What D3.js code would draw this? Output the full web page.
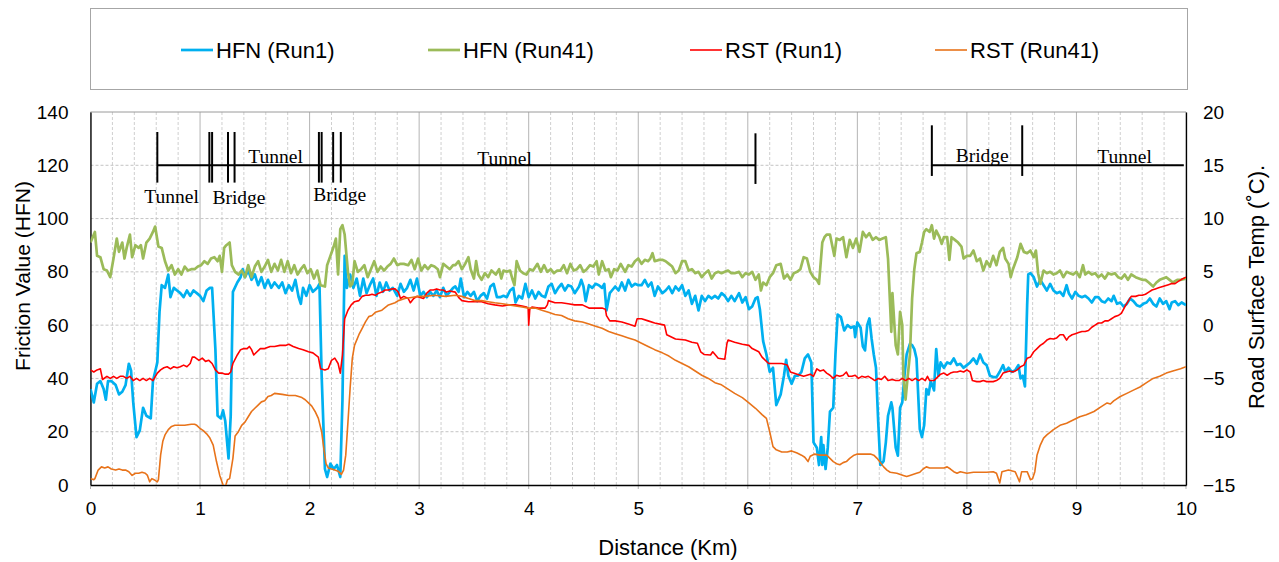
<!DOCTYPE html>
<html>
<head>
<meta charset="utf-8">
<script src="https://cdn.jsdelivr.net/npm/d3@7"></script>
<style>
  body { margin: 0; background: #fff; }
  svg { display: block; font-family: "Liberation Sans", Arial, sans-serif; }
  .axis text { fill: #000; font-size: 19px; }
  .structure-label { font-family: "Liberation Serif", "Times New Roman", serif; font-size: 19.5px; fill: #000; }
</style>
</head>
<body>
<svg id="chart"></svg>
<script>
// ---- data: [distance km, value] ----
// HFN on the left axis, road surface temp (°C) on the right axis

const hfnRun1 = [
  [0.00,36],[0.03,31],[0.06,38],[0.09,39],[0.12,36],[0.14,32],[0.16,39],[0.19,39],[0.23,37.5],[0.26,34],
  [0.29,35],[0.32,37.5],[0.35,45.5],[0.37,43],[0.39,31],[0.42,18],[0.45,20.5],[0.48,29],[0.51,26],[0.55,25],
  [0.57,39],[0.61,46],[0.63,65],[0.65,75],[0.68,74],[0.71,79],[0.73,70.5],[0.76,74],[0.79,73],[0.82,72],
  [0.85,70.5],[0.88,73],[0.91,71],[0.94,73],[0.97,72],[1.00,71],[1.03,69],[1.06,73],[1.09,74],[1.11,74],
  [1.14,51],[1.16,26],[1.19,25],[1.21,28],[1.23,24],[1.26,10],[1.28,26],[1.30,72.5],[1.34,76],[1.37,78],
  [1.39,81],[1.41,78],[1.44,80.5],[1.47,77],[1.50,79],[1.53,75],[1.56,78],[1.59,74],[1.62,77],[1.65,74],
  [1.68,76],[1.72,74],[1.75,76],[1.78,72],[1.81,75],[1.84,73],[1.87,77],[1.90,70.5],[1.92,68],[1.94,74],
  [1.97,71],[2.00,75],[2.03,72.5],[2.07,74],[2.09,75.5],[2.11,41],[2.14,6],[2.16,3],[2.19,8],[2.22,6],
  [2.25,7.5],[2.28,3],[2.30,32],[2.32,86],[2.34,74],[2.37,79],[2.40,74],[2.43,77.5],[2.46,71],[2.49,77.5],
  [2.52,72],[2.55,75],[2.58,77.5],[2.61,71],[2.64,76],[2.67,72.5],[2.70,76],[2.73,73],[2.76,74],[2.80,71],
  [2.83,75.5],[2.86,72.5],[2.89,74],[2.92,77],[2.95,73],[2.98,77.5],[3.01,71],[3.04,72.5],[3.07,70.5],[3.10,72.5],
  [3.13,71],[3.16,73],[3.19,70.5],[3.22,74],[3.25,71],[3.28,72.5],[3.31,74],[3.33,74.5],[3.36,72.5],[3.38,77.5],
  [3.41,70.5],[3.44,72.5],[3.47,71],[3.50,72.5],[3.53,69],[3.56,71],[3.59,72],[3.62,70],[3.65,74.5],[3.68,75.5],
  [3.71,70.5],[3.74,70.5],[3.77,71],[3.80,70.5],[3.83,73],[3.86,74],[3.88,68.5],[3.91,71],[3.94,70],[3.97,75.5],
  [4.00,70.5],[4.03,73],[4.06,70],[4.09,72.5],[4.12,71],[4.15,70.5],[4.18,74.5],[4.21,75.5],[4.24,72],[4.27,74],
  [4.30,75.5],[4.33,73],[4.36,75],[4.39,74.5],[4.42,72],[4.46,74.5],[4.48,77],[4.50,74.5],[4.52,69],[4.55,75],
  [4.58,74],[4.61,75.5],[4.64,75],[4.67,74],[4.69,75.5],[4.71,65.5],[4.74,72],[4.76,73],[4.79,74.5],[4.82,73],
  [4.85,76],[4.88,73],[4.91,77],[4.94,74.5],[4.97,75.5],[5.00,75],[5.03,75],[5.06,77],[5.09,74.5],[5.12,76],
  [5.15,71],[5.18,74.5],[5.22,72],[5.25,73],[5.28,74.5],[5.31,72],[5.34,74.5],[5.37,73],[5.40,75],[5.43,71],
  [5.46,73],[5.49,68],[5.52,71],[5.55,65.5],[5.58,71],[5.61,69],[5.64,71],[5.67,70],[5.70,71],[5.73,70],
  [5.76,72],[5.79,71],[5.82,69],[5.85,71],[5.88,69],[5.92,72],[5.95,68.5],[5.98,70.5],[6.01,66],[6.04,67],
  [6.07,70],[6.09,70.5],[6.11,66],[6.14,54],[6.17,49],[6.20,42.5],[6.23,44],[6.26,30],[6.30,34],[6.33,41],
  [6.35,47],[6.37,41],[6.40,38],[6.43,41],[6.46,41],[6.49,42.5],[6.52,47.5],[6.55,49],[6.58,46],[6.60,16],
  [6.63,14],[6.65,7.5],[6.67,18],[6.68,7.5],[6.69,15],[6.71,6],[6.73,14],[6.75,27.5],[6.78,29],[6.80,49],
  [6.82,64],[6.85,63],[6.88,58],[6.91,60],[6.94,59],[6.97,59.5],[6.98,55.5],[7.00,61],[7.03,59],[7.05,52],
  [7.07,50.5],[7.09,60],[7.11,62.5],[7.13,55],[7.15,49],[7.17,44],[7.19,24],[7.21,7.5],[7.24,9],[7.26,16],
  [7.28,26],[7.31,31],[7.32,29],[7.35,14],[7.37,11],[7.39,29],[7.41,31],[7.43,41],[7.45,49],[7.48,53],
  [7.50,52.5],[7.52,51],[7.54,47.5],[7.57,21],[7.59,18],[7.61,22.5],[7.63,36],[7.65,34],[7.67,39],[7.70,35.5],
  [7.72,51],[7.74,41],[7.76,46],[7.79,44],[7.82,46],[7.85,45.5],[7.88,47.5],[7.91,45],[7.94,45.5],[7.97,44],
  [8.00,45],[8.03,46],[8.06,47.5],[8.09,45.5],[8.12,49],[8.15,46],[8.18,45],[8.21,41],[8.24,40.5],[8.27,40.5],
  [8.30,42.5],[8.33,45],[8.35,42.5],[8.38,44],[8.41,42.5],[8.44,43],[8.47,45],[8.49,40],[8.51,41],[8.53,37],
  [8.55,67.5],[8.56,79],[8.58,79.5],[8.61,78],[8.64,74.5],[8.67,77],[8.70,75],[8.73,73],[8.76,75.5],[8.79,73],
  [8.82,72],[8.85,72.5],[8.88,71],[8.91,75],[8.93,72],[8.96,70],[8.99,72.5],[9.02,71],[9.05,70.5],[9.08,71],
  [9.11,70],[9.14,68.5],[9.17,70.5],[9.20,70.5],[9.23,69],[9.26,68.5],[9.29,70],[9.32,69],[9.34,71],[9.37,68],
  [9.40,68.5],[9.43,67],[9.46,68],[9.49,70],[9.52,69],[9.55,67.5],[9.58,67],[9.61,68],[9.64,68.5],[9.67,70],
  [9.70,68],[9.73,67],[9.76,70],[9.79,68],[9.82,69],[9.85,66],[9.87,68.5],[9.90,69],[9.93,67.5],[9.96,68.5],
  [10.0,67.5]
];

const hfnRun41 = [
  [0.00,91],[0.04,95],[0.06,86],[0.09,85.5],[0.12,81],[0.15,80.5],[0.18,78],[0.21,85],[0.24,92.5],[0.26,87.5],
  [0.29,91],[0.31,85],[0.33,89],[0.36,94],[0.38,85.5],[0.41,90],[0.44,89],[0.46,90],[0.48,85],[0.51,91],
  [0.54,92.5],[0.57,95],[0.59,97],[0.62,89.5],[0.65,89],[0.68,84],[0.71,80.5],[0.74,82.5],[0.77,79],[0.80,81],
  [0.83,79],[0.86,82],[0.89,80.5],[0.92,81],[0.95,81],[0.98,82],[1.01,82.5],[1.04,84],[1.07,83],[1.10,85],
  [1.13,85.5],[1.16,84],[1.18,86],[1.20,80],[1.22,89],[1.24,90],[1.27,91],[1.29,82.5],[1.32,80],[1.35,79],
  [1.38,80.5],[1.41,78],[1.44,82.5],[1.47,78],[1.50,82],[1.53,84],[1.56,80],[1.59,82],[1.62,84.5],[1.65,80],
  [1.68,83],[1.71,80.5],[1.74,84.5],[1.77,80],[1.80,84],[1.83,79.5],[1.86,82.5],[1.89,79],[1.92,81],[1.95,82.5],
  [1.98,79.5],[2.01,81],[2.04,77.5],[2.07,80.5],[2.10,75],[2.14,74.5],[2.16,82.5],[2.19,86],[2.22,89.5],[2.24,92.5],
  [2.26,79],[2.28,96],[2.30,97.5],[2.32,94],[2.35,80],[2.37,74.5],[2.39,75.5],[2.41,84],[2.44,80],[2.47,81],
  [2.50,82.5],[2.53,78],[2.56,81],[2.59,84],[2.62,80],[2.65,82],[2.68,80.5],[2.71,82],[2.74,83],[2.77,85],
  [2.80,82.5],[2.83,83],[2.86,83],[2.90,82.5],[2.93,84.5],[2.96,81],[2.99,85],[3.02,80.5],[3.05,82.5],[3.08,81],
  [3.11,82.5],[3.14,82],[3.17,81],[3.19,78],[3.22,83],[3.25,82],[3.28,81],[3.31,82.5],[3.33,82.5],[3.36,84],
  [3.39,81],[3.42,83],[3.45,85.5],[3.47,81],[3.50,77.5],[3.52,84],[3.54,79],[3.57,77],[3.60,79.5],[3.63,78],
  [3.66,80.5],[3.70,79],[3.73,81],[3.75,77.5],[3.77,80.5],[3.80,80],[3.83,80.5],[3.85,77.5],[3.87,75],[3.89,84],
  [3.92,80.5],[3.95,79.5],[3.98,79],[4.01,81],[4.04,80.5],[4.08,83],[4.11,80],[4.14,82.5],[4.17,80],[4.20,81],
  [4.23,79.5],[4.26,80.5],[4.29,80.5],[4.32,82.5],[4.35,79.5],[4.38,83],[4.41,80.5],[4.44,81],[4.47,82.5],[4.50,80],
  [4.53,81],[4.56,82.5],[4.59,82],[4.62,84],[4.64,79],[4.67,84],[4.70,80.5],[4.73,81],[4.75,78],[4.78,81],
  [4.81,80.5],[4.84,83],[4.88,80],[4.91,82.5],[4.94,82],[4.97,84],[5.00,85],[5.03,83],[5.06,84.5],[5.09,84],
  [5.11,85],[5.13,87],[5.15,84],[5.19,84.5],[5.22,84.5],[5.25,84],[5.28,83],[5.31,82],[5.34,79.5],[5.37,80.5],
  [5.40,84],[5.43,84],[5.46,80.5],[5.49,81],[5.52,79.5],[5.55,80],[5.58,78],[5.61,79.5],[5.64,80.5],[5.67,77.5],
  [5.70,79.5],[5.73,80],[5.76,79.5],[5.79,80],[5.82,80.5],[5.85,79.5],[5.88,79.5],[5.92,80],[5.95,78],[5.98,79.5],
  [6.01,79],[6.04,80],[6.07,77],[6.10,79],[6.12,73],[6.14,76],[6.17,75],[6.20,78],[6.23,79.5],[6.26,82.5],
  [6.30,83],[6.33,77.5],[6.36,79],[6.39,77],[6.42,79.5],[6.45,80],[6.48,81],[6.51,85.5],[6.54,85],[6.57,80],
  [6.60,78],[6.63,77],[6.65,75.5],[6.68,91],[6.70,93],[6.72,94],[6.75,94],[6.77,90],[6.79,86],[6.81,92.5],
  [6.84,92],[6.87,93],[6.90,85.5],[6.93,92],[6.96,89],[6.99,92.5],[7.02,87.5],[7.05,95],[7.08,93],[7.11,94.5],
  [7.14,92],[7.17,93],[7.20,92],[7.23,92.5],[7.26,93],[7.28,85],[7.31,57.5],[7.32,72],[7.35,52.5],[7.37,49],
  [7.39,65],[7.41,60],[7.42,41],[7.44,32],[7.46,41],[7.48,49],[7.50,70],[7.52,81],[7.54,87],[7.57,87.5],
  [7.59,91],[7.61,95],[7.63,96],[7.66,95],[7.68,97.5],[7.70,92.5],[7.72,95.5],[7.75,93],[7.77,90.5],[7.79,93],
  [7.82,93],[7.84,84.5],[7.86,93],[7.89,92],[7.92,91],[7.95,89.5],[7.97,85],[8.00,86],[8.03,86],[8.06,88],
  [8.09,84],[8.12,85],[8.15,80.5],[8.18,84],[8.21,82],[8.24,86],[8.27,82.5],[8.30,87.5],[8.33,89],[8.35,85],
  [8.38,83],[8.40,78],[8.42,81],[8.46,85.5],[8.49,90.5],[8.52,87.5],[8.55,87],[8.58,88],[8.61,85.5],[8.63,88],
  [8.65,79.5],[8.67,75.5],[8.70,80.5],[8.73,79.5],[8.76,80],[8.79,79],[8.82,79.5],[8.85,80.5],[8.88,78],[8.91,80],
  [8.94,79.5],[8.97,79],[9.00,80],[9.03,78],[9.06,82.5],[9.08,79],[9.11,80],[9.14,79],[9.17,79.5],[9.20,78],
  [9.23,79],[9.26,77.5],[9.29,79.5],[9.32,79],[9.35,79.5],[9.38,78],[9.41,77.5],[9.44,79],[9.47,77],[9.50,79],
  [9.54,78],[9.57,77.5],[9.60,77],[9.63,77],[9.66,76],[9.70,74.5],[9.73,76],[9.76,77],[9.79,77.5],[9.82,78],
  [9.85,77],[9.88,76],[9.92,77],[9.95,77],[10.0,77.5]
];

const rstRun1 = [
  [0.00,-4.2],[0.03,-4.4],[0.06,-4.2],[0.09,-4.1],[0.11,-5.1],[0.15,-4.8],[0.18,-5],[0.21,-4.8],[0.24,-5],[0.27,-4.8],
  [0.30,-4.8],[0.33,-5],[0.36,-4.8],[0.39,-5.2],[0.42,-5],[0.45,-5.2],[0.48,-5],[0.51,-5.2],[0.54,-5],[0.57,-5.2],
  [0.61,-4.5],[0.64,-4.2],[0.67,-4],[0.70,-3.9],[0.73,-4.1],[0.76,-3.9],[0.79,-4],[0.82,-3.9],[0.85,-3.75],[0.88,-3.9],
  [0.91,-3.6],[0.93,-3],[0.95,-3],[0.99,-3.3],[1.02,-3.1],[1.05,-3.4],[1.08,-3.3],[1.11,-3.6],[1.14,-4.2],[1.17,-4.5],
  [1.20,-4.5],[1.23,-4.6],[1.26,-4.6],[1.28,-4.4],[1.30,-3.6],[1.34,-2.8],[1.37,-2.3],[1.40,-2.2],[1.43,-2.2],[1.45,-2],
  [1.47,-2.3],[1.49,-2.8],[1.52,-2.5],[1.55,-2.2],[1.59,-2.2],[1.64,-2],[1.68,-2],[1.73,-1.9],[1.78,-1.9],[1.81,-1.8],
  [1.85,-2],[1.90,-2.2],[1.94,-2.3],[1.99,-2.5],[2.03,-2.6],[2.08,-3],[2.10,-4.1],[2.14,-4.2],[2.17,-4.1],[2.20,-3.3],
  [2.23,-3.1],[2.26,-3.6],[2.28,-4.5],[2.30,-2.8],[2.32,0.6],[2.35,1.4],[2.38,1.9],[2.41,2.2],[2.45,2.3],[2.48,2.7],
  [2.51,2.8],[2.54,2.8],[2.57,2.9],[2.60,2.8],[2.63,3],[2.66,3.1],[2.69,3.3],[2.72,3.3],[2.75,3.4],[2.78,3.4],
  [2.81,3.1],[2.83,2.5],[2.86,2.7],[2.90,2.5],[2.92,2.1],[2.95,2.5],[2.98,2.7],[3.01,2.6],[3.04,2.5],[3.07,3],
  [3.10,3.3],[3.13,3.3],[3.16,3.4],[3.19,3.3],[3.22,3.3],[3.25,3.1],[3.28,3.2],[3.33,3.1],[3.36,2.6],[3.39,2.3],
  [3.45,2.2],[3.51,2.2],[3.57,2.2],[3.63,2],[3.69,1.9],[3.76,1.8],[3.82,1.9],[3.88,1.9],[3.94,1.8],[3.98,1.7],
  [3.995,1.6],[4.00,0],[4.01,1.5],[4.03,1.7],[4.09,1.6],[4.15,1.6],[4.17,1.9],[4.18,2.3],[4.24,2.1],[4.30,2.1],
  [4.36,2],[4.42,1.9],[4.49,1.9],[4.55,1.6],[4.61,1.6],[4.67,1.6],[4.70,1.5],[4.71,0.9],[4.74,0.4],[4.79,0.4],
  [4.85,0.3],[4.91,0.1],[4.97,-0.1],[4.99,0.6],[5.03,0.6],[5.09,0.4],[5.15,0.2],[5.24,0],[5.26,-0.9],[5.34,-1.3],
  [5.43,-1.4],[5.49,-1.6],[5.54,-1.7],[5.57,-2.5],[5.60,-2.75],[5.66,-2.8],[5.68,-2.5],[5.73,-3.1],[5.79,-3.2],[5.81,-1.7],
  [5.82,-1.4],[5.88,-1.6],[5.95,-1.8],[6.01,-1.9],[6.04,-2.2],[6.10,-2.5],[6.13,-3],[6.19,-3.6],[6.25,-3.6],[6.31,-3.6],
  [6.36,-3.75],[6.39,-4.4],[6.45,-4.6],[6.51,-4.8],[6.57,-4.6],[6.60,-4.8],[6.63,-4.1],[6.66,-4.3],[6.69,-4.2],[6.72,-4.5],
  [6.75,-4.7],[6.78,-5],[6.81,-4.7],[6.84,-4.8],[6.87,-4.7],[6.90,-4.4],[6.92,-4.8],[6.95,-4.8],[6.98,-4.7],[7.01,-5],
  [7.04,-4.8],[7.07,-4.9],[7.10,-4.8],[7.13,-5],[7.16,-5.2],[7.19,-5],[7.22,-5.1],[7.25,-4.8],[7.28,-5.2],[7.32,-5.1],
  [7.35,-5.2],[7.38,-5.2],[7.41,-5],[7.44,-5.2],[7.47,-5],[7.50,-5.2],[7.53,-5],[7.56,-5.2],[7.59,-5],[7.62,-5.2],
  [7.64,-4.8],[7.66,-5.2],[7.70,-5.2],[7.72,-5],[7.76,-4.6],[7.79,-4.5],[7.82,-4.7],[7.85,-4.5],[7.88,-4.4],[7.91,-4.4],
  [7.94,-4.3],[7.97,-4.4],[8.00,-4.2],[8.03,-4.4],[8.05,-5.2],[8.09,-5.3],[8.12,-5.3],[8.15,-5.2],[8.18,-5.3],[8.21,-5.3],
  [8.24,-5.3],[8.27,-5.2],[8.30,-5],[8.33,-4.5],[8.36,-4.4],[8.39,-4.3],[8.42,-4.4],[8.46,-4.2],[8.49,-3.9],[8.52,-3.75],
  [8.55,-3.1],[8.58,-3],[8.61,-2.5],[8.64,-2.2],[8.67,-1.9],[8.70,-1.7],[8.73,-1.4],[8.76,-1.25],[8.79,-1.3],[8.82,-1.2],
  [8.85,-0.9],[8.88,-0.9],[8.91,-1.4],[8.93,-1.1],[8.96,-0.9],[8.99,-0.8],[9.02,-0.7],[9.05,-0.6],[9.08,-0.6],[9.11,-0.5],
  [9.14,-0.2],[9.17,0],[9.20,0.2],[9.23,0.2],[9.26,0.4],[9.29,0.4],[9.32,0.6],[9.35,0.8],[9.38,0.9],[9.41,1.1],
  [9.44,1.7],[9.47,2.2],[9.50,2.7],[9.54,2.7],[9.57,2.8],[9.60,2.8],[9.63,2.9],[9.66,3.1],[9.69,3.3],[9.72,3.4],
  [9.75,3.5],[9.78,3.6],[9.81,3.7],[9.84,3.8],[9.87,3.9],[9.90,3.9],[9.93,4.1],[9.96,4.3],[10.0,4.5]
];

const rstRun41 = [
  [0.00,-14.4],[0.03,-14.5],[0.04,-14.4],[0.07,-13.6],[0.10,-13.3],[0.13,-13.4],[0.16,-13.3],[0.19,-13.5],[0.23,-13.6],[0.26,-13.5],
  [0.29,-13.6],[0.32,-13.6],[0.35,-13.75],[0.38,-14.1],[0.41,-13.9],[0.44,-13.9],[0.47,-13.8],[0.50,-13.9],[0.52,-14.1],[0.54,-14.7],
  [0.56,-14.4],[0.58,-14.5],[0.61,-14.7],[0.62,-14.5],[0.64,-12.2],[0.66,-10.9],[0.68,-10.3],[0.71,-9.8],[0.74,-9.5],[0.77,-9.4],
  [0.80,-9.4],[0.86,-9.4],[0.92,-9.3],[0.95,-9.3],[0.97,-9.4],[1.00,-9.7],[1.03,-9.9],[1.06,-10.2],[1.09,-10.6],[1.12,-11.25],
  [1.15,-12.8],[1.18,-14.1],[1.21,-15],[1.23,-15.2],[1.25,-14.5],[1.27,-14.4],[1.30,-12.5],[1.32,-10.4],[1.35,-10],[1.38,-9.4],
  [1.41,-9.1],[1.44,-8.6],[1.47,-8.1],[1.50,-7.8],[1.53,-7.5],[1.56,-7.2],[1.59,-7.1],[1.62,-6.7],[1.65,-6.6],[1.68,-6.4],
  [1.75,-6.5],[1.81,-6.6],[1.87,-6.6],[1.90,-6.7],[1.93,-6.8],[1.96,-7],[1.99,-7.3],[2.02,-7.6],[2.05,-8.1],[2.08,-8.75],
  [2.11,-10],[2.13,-11.6],[2.15,-13],[2.17,-13.4],[2.23,-13.6],[2.26,-13.7],[2.29,-14],[2.31,-13.6],[2.33,-12.2],[2.35,-9.1],
  [2.37,-5.9],[2.39,-3.1],[2.41,-1.9],[2.45,-0.9],[2.48,-0.3],[2.51,0.3],[2.54,0.8],[2.57,0.9],[2.60,1.2],[2.66,1.4],
  [2.72,1.9],[2.78,2.1],[2.81,2.3],[2.87,2.5],[2.93,2.6],[2.99,2.7],[3.05,2.7],[3.14,2.8],[3.24,2.7],[3.33,2.8],
  [3.39,2.7],[3.45,2.5],[3.51,2.3],[3.57,2.3],[3.63,2.2],[3.69,2.1],[3.76,2],[3.82,1.9],[3.88,1.8],[3.94,1.7],
  [4.00,1.6],[4.06,1.6],[4.12,1.4],[4.18,1.2],[4.24,1],[4.30,0.9],[4.36,0.6],[4.42,0.4],[4.49,0.3],[4.55,0.1],
  [4.61,-0.1],[4.67,-0.3],[4.73,-0.6],[4.79,-0.8],[4.85,-1],[4.91,-1.2],[4.97,-1.4],[5.03,-1.7],[5.09,-2],[5.15,-2.3],
  [5.22,-2.6],[5.28,-2.9],[5.34,-3.3],[5.40,-3.6],[5.46,-3.9],[5.52,-4.3],[5.58,-4.7],[5.64,-5],[5.70,-5.4],[5.76,-5.6],
  [5.82,-6],[5.88,-6.4],[5.95,-6.8],[6.01,-7.3],[6.07,-7.8],[6.13,-8.4],[6.17,-8.75],[6.20,-10],[6.23,-11.4],[6.26,-11.7],
  [6.31,-11.9],[6.36,-11.9],[6.40,-11.8],[6.45,-12],[6.49,-12.2],[6.52,-12.4],[6.55,-12.8],[6.57,-12.3],[6.61,-12.1],[6.66,-12.2],
  [6.72,-12.2],[6.75,-12.5],[6.78,-12.8],[6.81,-13],[6.84,-13.1],[6.87,-12.9],[6.90,-12.8],[6.93,-12.5],[6.97,-12.2],[7.00,-12.1],
  [7.06,-12.1],[7.12,-12.1],[7.15,-12.2],[7.18,-12.5],[7.21,-12.9],[7.24,-13.3],[7.27,-13.6],[7.30,-13.8],[7.36,-13.9],[7.42,-14.1],
  [7.45,-14.2],[7.48,-14.1],[7.54,-13.9],[7.57,-13.8],[7.60,-13.5],[7.63,-13.3],[7.66,-13.4],[7.72,-13.4],[7.79,-13.4],[7.82,-13.3],
  [7.85,-13.5],[7.88,-13.75],[7.91,-13.9],[7.94,-13.75],[8.00,-13.9],[8.06,-13.8],[8.12,-13.8],[8.18,-13.8],[8.24,-13.75],[8.27,-13.9],
  [8.30,-14.8],[8.32,-13.75],[8.38,-13.6],[8.44,-13.75],[8.46,-14.2],[8.48,-14.7],[8.50,-13.75],[8.55,-13.75],[8.58,-14.5],[8.60,-14.4],
  [8.62,-13.75],[8.64,-12.2],[8.67,-11.25],[8.70,-10.6],[8.73,-10.3],[8.79,-9.8],[8.85,-9.4],[8.91,-9.2],[8.97,-8.9],[9.03,-8.6],
  [9.09,-8.4],[9.16,-8.1],[9.22,-7.7],[9.28,-7.3],[9.31,-7.4],[9.34,-7.1],[9.40,-6.7],[9.46,-6.4],[9.52,-6.1],[9.58,-5.8],
  [9.64,-5.4],[9.70,-5],[9.76,-4.8],[9.82,-4.5],[9.88,-4.3],[9.95,-4.1],[10.0,-3.9]
];

const seriesNames = ['HFN (Run1)', 'HFN (Run41)', 'RST (Run1)', 'RST (Run41)'];
const seriesAxis = ['left', 'left', 'right', 'right'];

// road structure annotations: marker [km, top HFN, bottom HFN], spans [from km, to km, HFN]
const structureMarkers = [
  [0.61,132.5,113.5],[1.085,132.5,113.5],[1.11,132.5,113.5],[1.255,132.5,113.5],[1.315,132.5,113.5],
  [2.085,132.5,113.5],[2.11,132.5,113.5],[2.215,132.5,113.5],[2.285,132.5,113.5],
  [6.07,132,113],[7.68,135,116],[8.505,135,116]
];
const structureSpans = [[0.61, 6.07, 120], [7.68, 9.98, 120]];
const structureLabels = [
  ['Tunnel', 0.74, 106], ['Bridge', 1.355, 105.5], ['Tunnel', 1.69, 120.8], ['Bridge', 2.275, 106.6],
  ['Tunnel', 3.78, 120.2], ['Bridge', 8.14, 121.1], ['Tunnel', 9.44, 121]
];

const hfnTicks = [0, 20, 40, 60, 80, 100, 120, 140];
const tempTicks = [-15, -10, -5, 0, 5, 10, 15, 20];
const distanceTicks = [0, 1, 2, 3, 4, 5, 6, 7, 8, 9, 10];

class FrictionChart {

    constructor(_config) {
        this.config = {
            parentElement: _config.parentElement,
            containerWidth: 1279,
            containerHeight: 562,
            margin: { top: 112, right: 93, bottom: 77, left: 90.5 },
            colors: ['#00B0F0', '#9BBB59', '#FF0000', '#E8731A'],
            widths: [2.7, 2.7, 1.6, 1.6]
        };
        this.data = [hfnRun1, hfnRun41, rstRun1, rstRun41];
        this.initVis();
    }

    initVis() {
        let vis = this;
        vis.width = vis.config.containerWidth - vis.config.margin.left - vis.config.margin.right;
        vis.height = vis.config.containerHeight - vis.config.margin.top - vis.config.margin.bottom;

        vis.xScale = d3.scaleLinear().domain([0, 10]).range([0, vis.width]);
        vis.yScale = d3.scaleLinear().domain([0, 140]).range([vis.height, 0]);
        vis.tScale = d3.scaleLinear().domain([-15, 20]).range([vis.height, 0]);

        vis.svg = d3.select(vis.config.parentElement)
            .attr('width', vis.config.containerWidth)
            .attr('height', vis.config.containerHeight);

        vis.chart = vis.svg.append('g')
            .attr('transform', `translate(${vis.config.margin.left},${vis.config.margin.top})`);

        vis.svg.append('defs').append('clipPath').attr('id', 'plot-clip')
            .append('rect').attr('width', vis.width).attr('height', vis.height);

        vis.renderVis();
    }

    renderVis() {
        let vis = this;

        // vertical grid every 0.2 km, solid at whole km
        const gridX = vis.xScale.ticks(50);
        vis.chart.append('g').selectAll('line')
            .data(gridX)
            .join('line')
            .attr('x1', d => vis.xScale(d)).attr('x2', d => vis.xScale(d))
            .attr('y1', 0).attr('y2', vis.height + 4)
            .attr('stroke', d => Math.abs(d - Math.round(d)) < 1e-6 ? '#b4b4b4' : '#cfcfcf')
            .attr('stroke-dasharray', d => Math.abs(d - Math.round(d)) < 1e-6 ? null : '3,2')
            .attr('stroke-width', 1);

        // horizontal grid
        vis.chart.append('g').selectAll('line')
            .data(hfnTicks.slice(1, -1))
            .join('line')
            .attr('x1', 0).attr('x2', vis.width)
            .attr('y1', d => vis.yScale(d)).attr('y2', d => vis.yScale(d))
            .attr('stroke', '#c4c4c4')
            .attr('stroke-dasharray', '3,2');

        // top border
        vis.chart.append('line')
            .attr('x1', 0).attr('x2', vis.width)
            .attr('y1', 0).attr('y2', 0)
            .attr('stroke', '#9a9a9a');

        // axes
        vis.xAxisG = vis.chart.append('g')
            .attr('class', 'axis x-axis')
            .attr('transform', `translate(0,${vis.height})`)
            .call(d3.axisBottom(vis.xScale).tickValues(distanceTicks).tickSize(0).tickPadding(17));

        vis.yAxisG = vis.chart.append('g')
            .attr('class', 'axis y-axis')
            .call(d3.axisLeft(vis.yScale).tickValues(hfnTicks).tickSize(0).tickPadding(22));

        vis.tAxisG = vis.chart.append('g')
            .attr('class', 'axis t-axis')
            .attr('transform', `translate(${vis.width},0)`)
            .call(d3.axisRight(vis.tScale).tickValues(tempTicks).tickSize(0).tickPadding(17));

        vis.chart.selectAll('.axis .domain').attr('stroke', '#000').attr('stroke-width', 1.3);
        vis.chart.selectAll('.axis text').attr('font-family', '"Liberation Sans", Arial, sans-serif');

        // series lines
        const lineLeft = d3.line().x(d => vis.xScale(d[0])).y(d => vis.yScale(d[1]));
        const lineRight = d3.line().x(d => vis.xScale(d[0])).y(d => vis.tScale(d[1]));

        vis.chart.append('g')
            .attr('clip-path', 'url(#plot-clip)')
            .selectAll('path')
            .data(vis.data)
            .join('path')
            .attr('fill', 'none')
            .attr('stroke', (d, i) => vis.config.colors[i])
            .attr('stroke-width', (d, i) => vis.config.widths[i])
            .attr('stroke-linejoin', 'round')
            .attr('d', (d, i) => seriesAxis[i] === 'left' ? lineLeft(d) : lineRight(d));

        // structure annotations
        const notes = vis.chart.append('g');
        notes.selectAll('.span')
            .data(structureSpans)
            .join('line')
            .attr('class', 'span')
            .attr('x1', d => vis.xScale(d[0])).attr('x2', d => vis.xScale(d[1]))
            .attr('y1', d => vis.yScale(d[2])).attr('y2', d => vis.yScale(d[2]))
            .attr('stroke', '#000').attr('stroke-width', 2);

        notes.selectAll('.marker')
            .data(structureMarkers)
            .join('line')
            .attr('class', 'marker')
            .attr('x1', d => vis.xScale(d[0])).attr('x2', d => vis.xScale(d[0]))
            .attr('y1', d => vis.yScale(d[1])).attr('y2', d => vis.yScale(d[2]))
            .attr('stroke', '#000').attr('stroke-width', 2);

        notes.selectAll('.structure-label')
            .data(structureLabels)
            .join('text')
            .attr('class', 'structure-label')
            .attr('text-anchor', 'middle')
            .attr('x', d => vis.xScale(d[1]))
            .attr('y', d => vis.yScale(d[2]))
            .text(d => d[0]);

        // axis titles
        vis.svg.append('text')
            .attr('transform', 'translate(22,276) rotate(-90)')
            .attr('text-anchor', 'middle')
            .attr('dominant-baseline', 'central')
            .attr('font-size', 21)
            .text('Friction Value (HFN)');

        vis.svg.append('text')
            .attr('transform', 'translate(1256,287) rotate(-90)')
            .attr('text-anchor', 'middle')
            .attr('dominant-baseline', 'central')
            .attr('font-size', 22)
            .text('Road Surface Temp (˚C).');

        vis.svg.append('text')
            .attr('x', 668).attr('y', 555)
            .attr('text-anchor', 'middle')
            .attr('font-size', 22)
            .text('Distance (Km)');

        vis.renderLegend();
    }

    renderLegend() {
        let vis = this;
        const legend = vis.svg.append('g');
        legend.append('rect')
            .attr('x', 90.5).attr('y', 8.5)
            .attr('width', 1097).attr('height', 81)
            .attr('fill', '#fff').attr('stroke', '#a6a6a6');

        const itemX = [181, 428, 690, 935];
        const items = legend.selectAll('.legend-item')
            .data(seriesNames)
            .join('g')
            .attr('class', 'legend-item')
            .attr('transform', (d, i) => `translate(${itemX[i]},50)`);

        items.append('line')
            .attr('x1', 0).attr('x2', 32)
            .attr('stroke', (d, i) => vis.config.colors[i])
            .attr('stroke-width', (d, i) => vis.config.widths[i]);

        items.append('text')
            .attr('x', 35).attr('y', 0)
            .attr('dominant-baseline', 'central')
            .attr('font-size', 22)
            .text(d => d);
    }
}

new FrictionChart({ parentElement: '#chart' });
</script>
</body>
</html>
